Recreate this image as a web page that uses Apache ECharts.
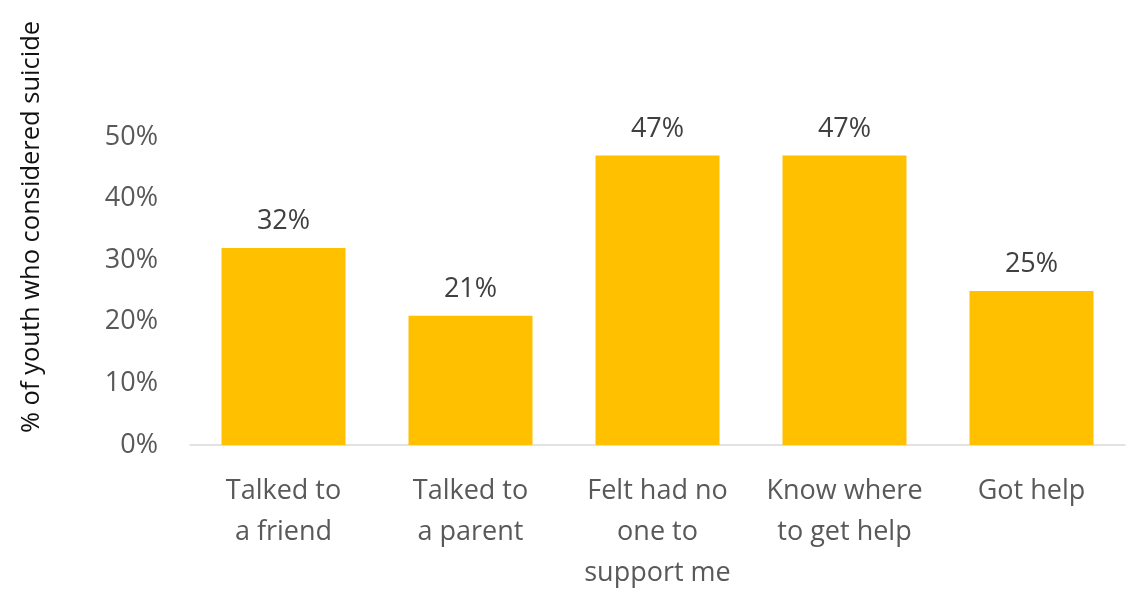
<!DOCTYPE html>
<html>
<head>
<meta charset="utf-8">
<script src="https://cdn.jsdelivr.net/npm/echarts@6/dist/echarts.min.js"></script>
<style>
  html, body { margin: 0; padding: 0; background: #ffffff; }
  #chart { width: 1128px; height: 599px; }
</style>
</head>
<body>
<div id="chart"></div>
<script>
// Survey responses among youth who considered suicide
const categories = [
  'Talked to\na friend',
  'Talked to\na parent',
  'Felt had no\none to\nsupport me',
  'Know where\nto get help',
  'Got help'
];
const values = [32, 21, 47, 47, 25];
const yTicks = [0, 10, 20, 30, 40, 50];
const yTitle = '% of youth who considered suicide';

const FONT = '"Open Sans", sans-serif';

const chart = echarts.init(document.getElementById('chart'), null, { renderer: 'canvas' });
chart.setOption({
  backgroundColor: '#ffffff',
  animation: false,
  grid: { left: 190, right: 3, top: 137, bottom: 154, containLabel: false },
  graphic: [{
    type: 'text',
    rotation: Math.PI / 2,
    x: 32,
    y: 227,
    style: {
      text: yTitle,
      fill: '#111111',
      font: '25.5px ' + FONT,
      textAlign: 'center',
      textVerticalAlign: 'middle'
    }
  }],
  xAxis: {
    type: 'category',
    data: categories,
    axisTick: { show: false },
    axisLine: { lineStyle: { color: '#d9d9d9', width: 1.5 } },
    axisLabel: {
      color: '#595959',
      fontFamily: FONT,
      fontSize: 27,
      lineHeight: 41,
      margin: 26,
      interval: 0
    }
  },
  yAxis: {
    type: 'value',
    min: yTicks[0],
    max: yTicks[yTicks.length - 1],
    interval: 10,
    splitLine: { show: false },
    axisLine: { show: false },
    axisTick: { show: false },
    axisLabel: {
      color: '#595959',
      fontFamily: FONT,
      fontSize: 27,
      margin: 32,
      formatter: v => v + '%'
    }
  },
  series: [{
    type: 'bar',
    data: values,
    barWidth: 124,
    itemStyle: { color: '#FFC000' },
    label: {
      show: true,
      position: 'top',
      distance: 13,
      color: '#404040',
      fontFamily: FONT,
      fontSize: 27,
      formatter: p => p.value + '%'
    }
  }]
});
</script>
</body>
</html>
